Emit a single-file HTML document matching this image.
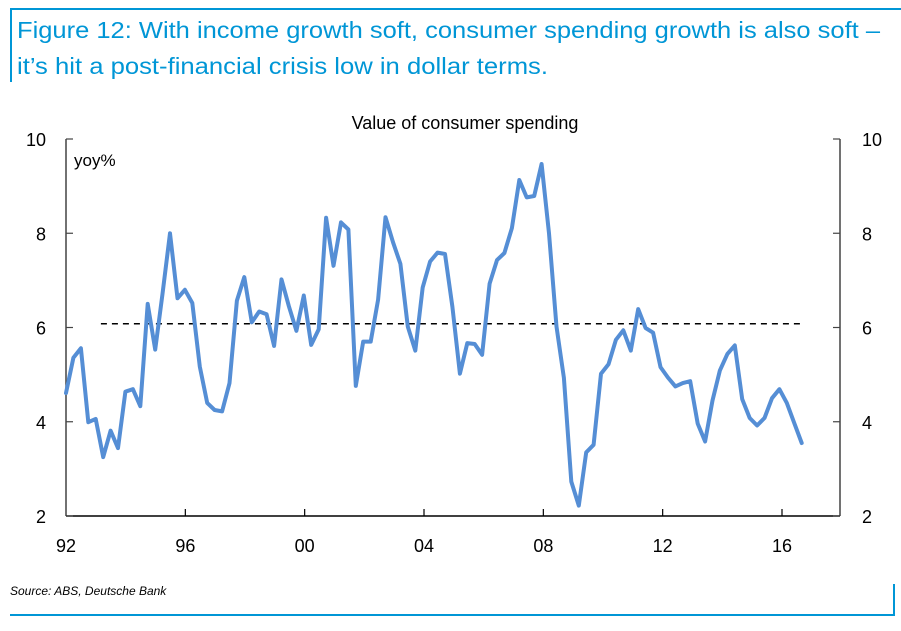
<!DOCTYPE html>
<html><head><meta charset="utf-8"><style>
body{margin:0;background:#fff;width:901px;height:626px;overflow:hidden;font-family:"Liberation Sans",sans-serif}
</style></head><body>
<svg width="901" height="626" xmlns="http://www.w3.org/2000/svg">
<line x1="10" y1="9" x2="901" y2="9" stroke="#0096d6" stroke-width="2"/>
<line x1="11" y1="8" x2="11" y2="82" stroke="#0096d6" stroke-width="2"/>
<text x="17" y="38" font-size="23" fill="#0096d6" textLength="863" lengthAdjust="spacingAndGlyphs">Figure 12: With income growth soft, consumer spending growth is also soft –</text>
<text x="17" y="74" font-size="23" fill="#0096d6" textLength="531" lengthAdjust="spacingAndGlyphs">it’s hit a post-financial crisis low in dollar terms.</text>
<text x="465" y="129" font-size="18" text-anchor="middle" fill="#000">Value of consumer spending</text>
<text x="74" y="166" font-size="17" fill="#000">yoy%</text>
<g id="axes"></g>
<g id="marks"></g>
<text x="10" y="595" font-size="12" font-style="italic" fill="#000">Source: ABS, Deutsche Bank</text>
<line x1="10" y1="615" x2="895" y2="615" stroke="#0096d6" stroke-width="2"/>
<line x1="894" y1="584" x2="894" y2="616" stroke="#0096d6" stroke-width="2"/>
</svg>
<script>
const yTicks=[2,4,6,8,10];
const xTickYears=[1992,1996,2000,2004,2008,2012,2016];
const xTickLabels=["92","96","00","04","08","12","16"];
const startYear=1992.0;
const values=[4.61,5.36,5.56,3.99,4.06,3.25,3.81,3.44,4.64,4.69,4.33,6.50,5.53,6.73,8.00,6.62,6.80,6.52,5.17,4.40,4.25,4.22,4.82,6.57,7.07,6.11,6.34,6.28,5.61,7.02,6.45,5.93,6.68,5.63,5.96,8.33,7.31,8.23,8.08,4.76,5.70,5.70,6.59,8.34,7.81,7.35,6.02,5.51,6.85,7.40,7.59,7.56,6.44,5.02,5.67,5.65,5.42,6.93,7.43,7.58,8.11,9.13,8.76,8.79,9.47,8.00,6.02,4.93,2.73,2.22,3.35,3.51,5.02,5.22,5.74,5.94,5.51,6.39,5.99,5.89,5.16,4.94,4.75,4.82,4.86,3.96,3.58,4.45,5.09,5.44,5.62,4.48,4.08,3.92,4.08,4.50,4.69,4.40,3.97,3.55];
const avgValue=6.08;
const avgStart=1993.17, avgEnd=2016.6;
const NS="http://www.w3.org/2000/svg";
const L=66,R=840,T=139,B=516;
const xs=y=>L+(y-1992)*(782-66)/24;
const ys=v=>B-(v-2)*(B-T)/8;
const axes=document.getElementById('axes'),marks=document.getElementById('marks');
function mk(tag,attrs,parent){const e=document.createElementNS(NS,tag);for(const k in attrs)e.setAttribute(k,attrs[k]);parent.appendChild(e);return e;}
let e;
e=mk('line',{x1:L,y1:T,x2:L,y2:B,stroke:'#444','stroke-width':1.5},axes);


e=mk('line',{x1:R,y1:T,x2:R,y2:B,stroke:'#444','stroke-width':1.5},axes);


e=mk('line',{x1:L,y1:B,x2:R,y2:B,stroke:'#000','stroke-width':1.5},axes);


yTicks.forEach(v=>{
  const y=ys(v);
  e=mk('line',{x1:L,y1:y,x2:L+7,y2:y,stroke:'#444','stroke-width':1.2},axes);
  
  
  e=mk('line',{x1:R-7,y1:y,x2:R,y2:y,stroke:'#444','stroke-width':1.2},axes);
  
  
  e=mk('text',{x:46,y:y+7,'font-size':18,'text-anchor':'end',fill:'#000'},axes);e.textContent=v;
  
  
  e=mk('text',{x:862,y:y+7,'font-size':18,fill:'#000'},axes);e.textContent=v;
  
  
});
xTickYears.forEach((yr,i)=>{
  const x=xs(yr);
  if(i>0){e=mk('line',{x1:x,y1:B-7,x2:x,y2:B,stroke:'#000','stroke-width':1.2},axes);
  
  }
  e=mk('text',{x:x,y:552,'font-size':18,'text-anchor':'middle',fill:'#000'},axes);e.textContent=xTickLabels[i];
  
  
});
e=mk('line',{x1:xs(avgStart),y1:ys(avgValue),x2:xs(avgEnd),y2:ys(avgValue),stroke:'#000','stroke-width':1.5,'stroke-dasharray':'6,5'},marks);


const step=(2016.66-startYear)/(values.length-1);
const pts=values.map((v,i)=>xs(startYear+i*step).toFixed(1)+','+ys(v).toFixed(1)).join(' ');
e=mk('polyline',{points:pts,fill:'none',stroke:'#558ed5','stroke-width':4,'stroke-linejoin':'round','stroke-linecap':'round'},marks);


</script>
</body></html>
